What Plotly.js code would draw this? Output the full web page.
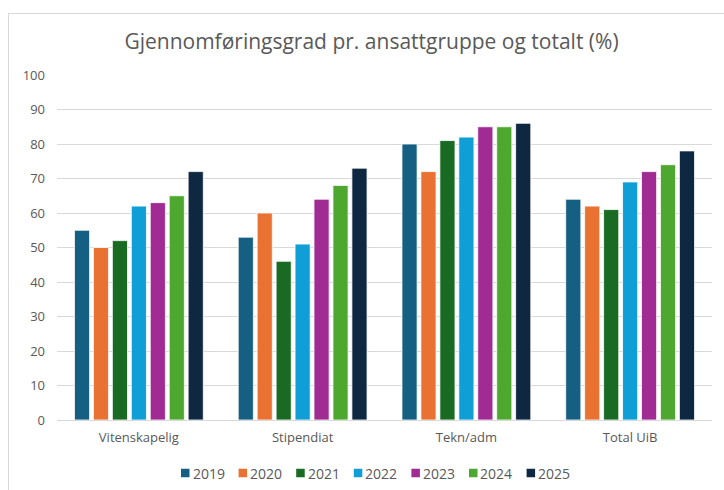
<!DOCTYPE html>
<html>
<head>
<meta charset="utf-8">
<script src="https://cdn.plot.ly/plotly-3.0.1.min.js"></script>
<style>html,body{margin:0;padding:0;background:#fff;}#chart{width:724px;height:490px;}</style>
</head>
<body>
<div id="chart"></div>
<script>
const categories = ["Vitenskapelig", "Stipendiat", "Tekn/adm", "Total UiB"];
const years = ["2019", "2020", "2021", "2022", "2023", "2024", "2025"];
const v2019 = [55, 53, 80, 64];
const v2020 = [50, 60, 72, 62];
const v2021 = [52, 46, 81, 61];
const v2022 = [62, 51, 82, 69];
const v2023 = [63, 64, 85, 72];
const v2024 = [65, 68, 85, 74];
const v2025 = [72, 73, 86, 78];
const seriesValues = [v2019, v2020, v2021, v2022, v2023, v2024, v2025];
const colors = ["#156082", "#E97132", "#196B24", "#0F9ED5", "#A02B93", "#4EA72E", "#0E2841"];
const yTicks = [0, 10, 20, 30, 40, 50, 60, 70, 80, 90, 100];

const FONT = "'Open Sans', Roboto, sans-serif";
const TXT = "#595959";
const W = 724, H = 490;
const M = {l: 57, r: 12, t: 75, b: 70};
const PW = W - M.l - M.r, PH = H - M.t - M.b;
const px2x = p => (p - M.l) / PW;
const px2y = p => (H - M.b - p) / PH;

const traces = years.map((yr, i) => ({
  type: "bar",
  name: yr,
  x: categories,
  y: seriesValues[i],
  marker: {color: colors[i], line: {color: "rgba(255,255,255,0.8)", width: 1}},
  showlegend: false,
  hoverinfo: "x+y+name"
}));

// manual legend: square + label per year
const shapes = [];
const annotations = [];
const legStart = 181, legStep = 57.6, sq = 8.5, legY = 473;
years.forEach((yr, i) => {
  const x0 = legStart + i * legStep;
  shapes.push({type: "rect", xref: "paper", yref: "paper",
    x0: px2x(x0), x1: px2x(x0 + sq), y0: px2y(legY + sq / 2), y1: px2y(legY - sq / 2),
    fillcolor: colors[i], line: {width: 0}});
  annotations.push({xref: "paper", yref: "paper", x: px2x(x0 + sq + 1), y: px2y(legY),
    xanchor: "left", yanchor: "middle", showarrow: false, text: yr,
    font: {family: FONT, size: 14, color: TXT}});
});
// chart area border (left and top)
shapes.push({type: "line", xref: "paper", yref: "paper", x0: px2x(8.5), x1: px2x(8.5), y0: px2y(13), y1: px2y(490), line: {color: "#d9d9d9", width: 1}});
shapes.push({type: "line", xref: "paper", yref: "paper", x0: px2x(8.5), x1: px2x(724), y0: px2y(13.5), y1: px2y(13.5), line: {color: "#d9d9d9", width: 1}});

const layout = {
  width: W, height: H,
  margin: M,
  paper_bgcolor: "#fff", plot_bgcolor: "#fff",
  barmode: "group",
  bargap: 0.19,
  bargroupgap: 0.2,
  showlegend: false,
  title: {text: "Gjennomføringsgrad pr. ansattgruppe og totalt (%)",
    font: {family: FONT, size: 21, color: TXT},
    xref: "container", x: 371.5 / W, xanchor: "center",
    yref: "container", y: 1 - 42 / H, yanchor: "middle"},
  xaxis: {
    type: "category",
    tickfont: {family: FONT, size: 13, color: TXT},
    showline: false, showgrid: false, ticks: "", zeroline: false,
    ticklabelstandoff: 8
  },
  yaxis: {
    range: [0, 100],
    tickvals: yTicks,
    ticktext: yTicks.map(String),
    tickfont: {family: FONT, size: 13, color: TXT},
    showgrid: true, gridcolor: "#d9d9d9", gridwidth: 1,
    zeroline: true, zerolinecolor: "#d9d9d9", zerolinewidth: 1,
    showline: false, ticks: "",
    ticklabelstandoff: 11
  },
  shapes: shapes,
  annotations: annotations
};

Plotly.newPlot("chart", traces, layout, {displayModeBar: false, staticPlot: true});
</script>
</body>
</html>
